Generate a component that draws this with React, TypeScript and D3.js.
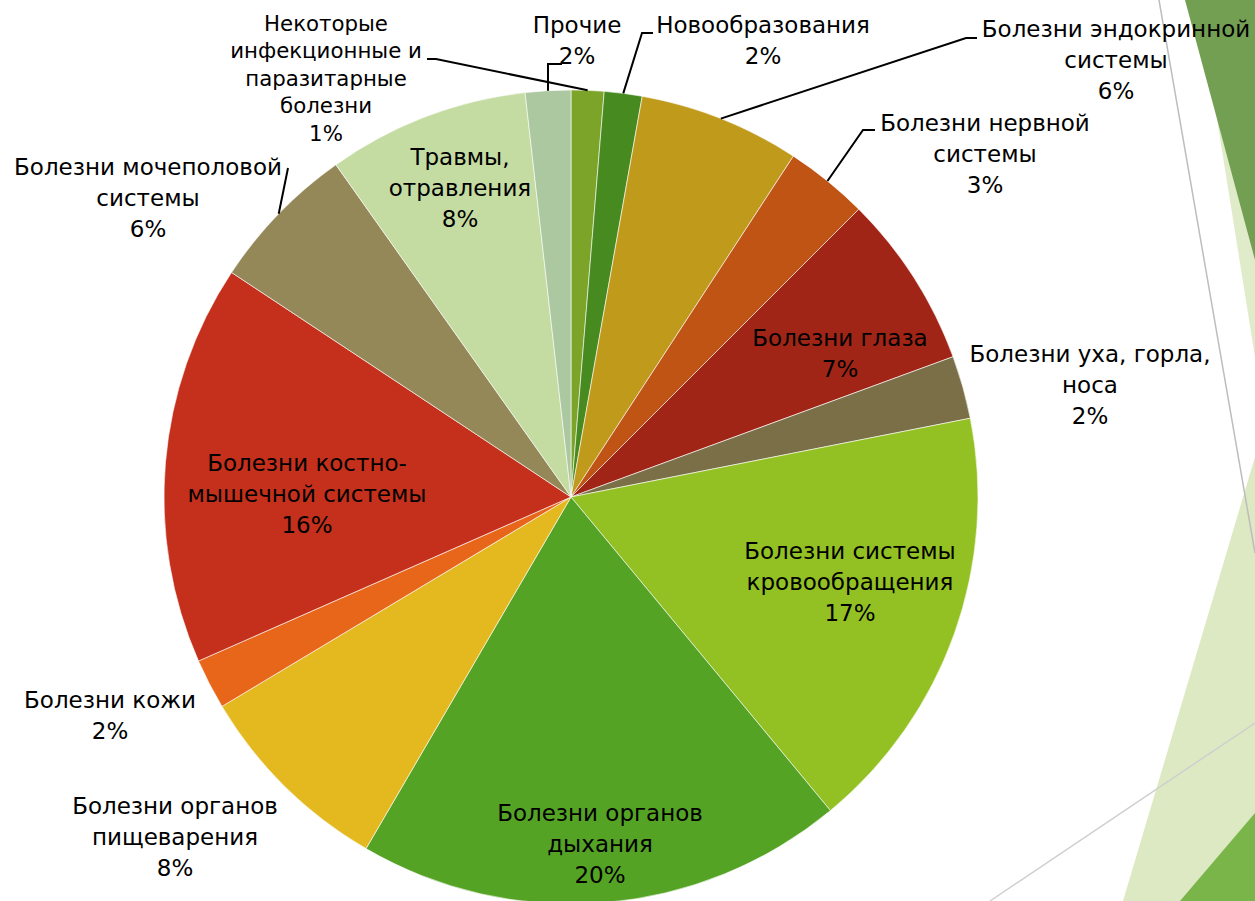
import React from "react";
import * as d3 from "d3";

const categories = [
  "Некоторые инфекционные и паразитарные болезни",
  "Новообразования",
  "Болезни эндокринной системы",
  "Болезни нервной системы",
  "Болезни глаза",
  "Болезни уха, горла, носа",
  "Болезни системы кровообращения",
  "Болезни органов дыхания",
  "Болезни органов пищеварения",
  "Болезни кожи",
  "Болезни костно-мышечной системы",
  "Болезни мочеполовой системы",
  "Травмы, отравления",
  "Прочие",
];
const values = [1.3, 1.5, 6.4, 3.3, 6.9, 2.5, 17.1, 19.4, 8.0, 2.0, 15.9, 5.9, 8.0, 1.8];
const percentLabels = ["1%", "2%", "6%", "3%", "7%", "2%", "17%", "20%", "8%", "2%", "16%", "6%", "8%", "2%"];
const labelLines = [
  ["Некоторые", "инфекционные и", "паразитарные", "болезни"],
  ["Новообразования"],
  ["Болезни эндокринной", "системы"],
  ["Болезни нервной", "системы"],
  ["Болезни глаза"],
  ["Болезни уха, горла,", "носа"],
  ["Болезни системы", "кровообращения"],
  ["Болезни органов", "дыхания"],
  ["Болезни органов", "пищеварения"],
  ["Болезни кожи"],
  ["Болезни костно-", "мышечной системы"],
  ["Болезни мочеполовой", "системы"],
  ["Травмы,", "отравления"],
  ["Прочие"],
];
const colors = [
  "#7ba428", "#478a20", "#bf9a1b", "#c05414", "#a02517", "#7a6f47", "#93c123",
  "#55a325", "#e4b920", "#e7661a", "#c5301c", "#958858", "#c4dba2", "#abc8a0",
];

// layout (label centers, first-line y, line step, font size, leader anchor points)
const labelLayout: { x: number; y: number; step: number; fs: number; leader?: [number, number][] }[] = [
  { x: 326, y: 23, step: 27.6, fs: 21.3, leader: [[427, 59], [436, 59]] },
  { x: 763, y: 25, step: 31, fs: 23, leader: [[653, 33], [642, 33]] },
  { x: 1116, y: 29, step: 31, fs: 23, leader: [[977, 38], [966, 38]] },
  { x: 985, y: 123, step: 31, fs: 23, leader: [[875, 130], [863, 130]] },
  { x: 840, y: 338, step: 31, fs: 23 },
  { x: 1090, y: 354, step: 31, fs: 23 },
  { x: 850, y: 551, step: 31, fs: 23 },
  { x: 600, y: 813, step: 31, fs: 23 },
  { x: 175, y: 806, step: 31, fs: 23 },
  { x: 110, y: 700, step: 31, fs: 23 },
  { x: 307, y: 463, step: 31, fs: 23 },
  { x: 148, y: 167, step: 31, fs: 23, leader: [[288, 168]] },
  { x: 460, y: 157, step: 31, fs: 23 },
  { x: 577, y: 25, step: 31, fs: 23, leader: [[562, 64], [548, 64]] },
];

const W = 1255;
const H = 901;
const cx = 571;
const cy = 497;
const R = 407;

export default function App() {
  const pie = d3.pie<number>().sort(null).value((d) => d)(values);
  const arc = d3.arc<d3.PieArcDatum<number>>().innerRadius(0).outerRadius(R);
  const line = d3.line();
  const font = "'DejaVu Sans', sans-serif";

  return (
    <svg width={W} height={H} style={{ position: "absolute", left: 0, top: 0, background: "#fff" }}>
      {/* decorative theme shapes */}
      <polygon points="1198,0 1255,0 1255,357" fill="#e0ebc9" />
      <polygon points="1185,0 1255,0 1255,260" fill="#739f52" />
      <polygon points="1255,457 1255,901 1123,901" fill="#dde9c3" />
      <polygon points="1255,813 1255,901 1180,901" fill="#7ab54a" />
      <line x1={1159} y1={0} x2={1255} y2={553} stroke="#bdbdbd" strokeWidth={1.5} />
      <line x1={990} y1={901} x2={1255} y2={723} stroke="#cfcfcf" strokeWidth={1.5} />

      <g transform={`translate(${cx},${cy})`}>
        {pie.map((p, i) => (
          <path key={i} d={arc(p) || ""} fill={colors[i]} stroke="#ffffff" strokeWidth={0.6} />
        ))}
      </g>

      {pie.map((p, i) => {
        const L = labelLayout[i];
        if (!L.leader) return null;
        const mid = (p.startAngle + p.endAngle) / 2;
        const ex = cx + R * Math.sin(mid);
        const ey = cy - R * Math.cos(mid);
        const pts: [number, number][] = [...L.leader, [ex, ey]];
        return <path key={"l" + i} d={line(pts) || ""} fill="none" stroke="#000" strokeWidth={2} />;
      })}

      {labelLines.map((lines, i) => {
        const L = labelLayout[i];
        const all = [...lines, percentLabels[i]];
        return (
          <text key={"t" + i} textAnchor="middle" fontFamily={font} fontSize={L.fs} fill="#000">
            {all.map((s, j) => (
              <tspan key={j} x={L.x} y={L.y + j * L.step} dominantBaseline="central">
                {s}
              </tspan>
            ))}
          </text>
        );
      })}
    </svg>
  );
}
